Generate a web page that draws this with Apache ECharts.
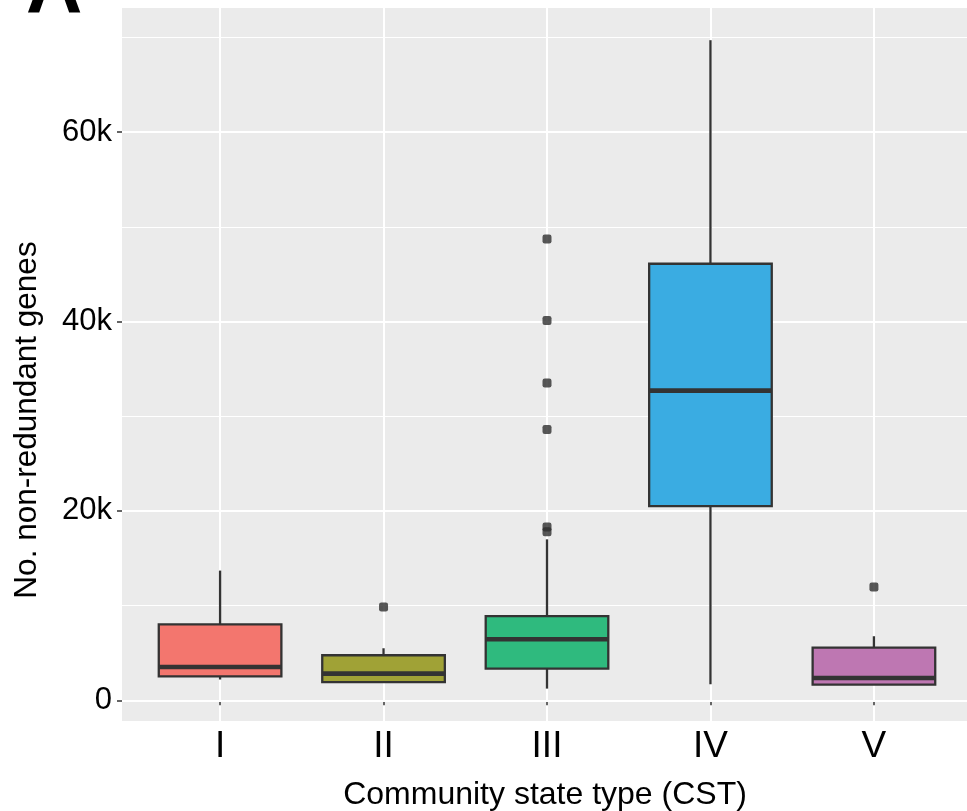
<!DOCTYPE html>
<html>
<head>
<meta charset="utf-8">
<script src="https://cdn.jsdelivr.net/npm/echarts@6/dist/echarts.min.js"></script>
<style>
html,body{margin:0;padding:0;background:#fff;}
#chart{width:967px;height:811px;}
</style>
</head>
<body>
<div id="chart"></div>
<script>
// ---- data ----
var categories = ['I', 'II', 'III', 'IV', 'V'];
var categoryPositions = [1, 2, 3, 4, 5];
var whiskerLow  = [2200, 1900, 1240, 1700, 1660];
var q1Values    = [2540, 1930, 3350, 20500, 1660];
var medianValues= [3520, 2820, 6450, 32700, 2360];
var q3Values    = [8030, 4760, 8900, 46100, 5570];
var whiskerHigh = [13700, 5500, 17000, 69700, 6770];
var outlierCategory = ['II', 'III', 'III', 'III', 'III', 'III', 'III', 'V'];
var outlierValue    = [9850, 48700, 40100, 33500, 28600, 18300, 17800, 11980];
var yTickValues = [0, 20000, 40000, 60000];
var yTickLabels = ['0', '20k', '40k', '60k'];
var yMinorValues = [10000, 30000, 50000, 70000];
var boxColors = ['#F3766E', '#A0A236', '#2FBA7E', '#3AACE2', '#BE77B2'];

// ---- build ----
var boxData = categories.map(function (c, i) {
  return [categoryPositions[i], whiskerLow[i], q1Values[i], medianValues[i], q3Values[i], whiskerHigh[i]];
});
var outlierData = outlierCategory.map(function (c, i) {
  return [categoryPositions[categories.indexOf(c)], outlierValue[i]];
});

var FONT = 'Liberation Sans';
var chart = echarts.init(document.getElementById('chart'), null, {renderer: 'canvas'});

var yAxisCommon = {
  type: 'value',
  min: -2180,
  max: 73100,
  axisLine: {show: false}
};

chart.setOption({
  animation: false,
  backgroundColor: '#FFFFFF',
  grid: {
    left: 122, width: 850, top: 8, height: 713,
    containLabel: false,
    outerBoundsMode: 'none',
    show: true, backgroundColor: '#EBEBEB', borderWidth: 0
  },
  xAxis: {
    type: 'value',
    min: 0.4,
    max: 5.6,
    axisLine: {show: false},
    axisTick: {show: true, length: 5, lineStyle: {color: '#333333', width: 1.5}, customValues: categoryPositions},
    axisLabel: {
      customValues: categoryPositions,
      formatter: function (v) { return categories[Math.round(v) - 1]; },
      color: '#000000', fontFamily: FONT, fontSize: 37, margin: 7
    },
    splitLine: {show: true, lineStyle: {color: '#FFFFFF', width: 2}}
  },
  yAxis: [
    Object.assign({}, yAxisCommon, {
      axisTick: {show: true, length: 5, lineStyle: {color: '#333333', width: 1.5}, customValues: yTickValues},
      axisLabel: {
        customValues: yTickValues,
        formatter: function (v) { return yTickLabels[yTickValues.indexOf(v)]; },
        color: '#000000', fontFamily: FONT, fontSize: 31, margin: 10
      },
      splitLine: {show: true, lineStyle: {color: '#FFFFFF', width: 2}},
      z: 1
    }),
    Object.assign({}, yAxisCommon, {
      position: 'left',
      axisTick: {show: false, customValues: yMinorValues},
      axisLabel: {show: false, customValues: yMinorValues},
      splitLine: {show: true, lineStyle: {color: '#FFFFFF', width: 1.2}},
      z: 0
    })
  ],
  series: [
    {
      type: 'custom',
      xAxisIndex: 0,
      yAxisIndex: 0,
      data: boxData,
      z: 3,
      renderItem: function (params, api) {
        var x = api.value(0);
        var lo = api.coord([x, api.value(1)]);
        var q1 = api.coord([x, api.value(2)]);
        var md = api.coord([x, api.value(3)]);
        var q3 = api.coord([x, api.value(4)]);
        var hi = api.coord([x, api.value(5)]);
        var half = api.size([0.75, 0])[0] / 2;
        var stroke = '#333333';
        return {
          type: 'group',
          children: [
            {type: 'line', shape: {x1: hi[0], y1: hi[1], x2: q3[0], y2: q3[1]}, style: {stroke: stroke, lineWidth: 2.3}},
            {type: 'line', shape: {x1: q1[0], y1: q1[1], x2: lo[0], y2: lo[1]}, style: {stroke: stroke, lineWidth: 2.3}},
            {type: 'rect', shape: {x: q3[0] - half, y: q3[1], width: 2 * half, height: q1[1] - q3[1]},
              style: {fill: boxColors[params.dataIndex], stroke: stroke, lineWidth: 2.3}},
            {type: 'line', shape: {x1: md[0] - half, y1: md[1], x2: md[0] + half, y2: md[1]}, style: {stroke: stroke, lineWidth: 4.6}}
          ]
        };
      }
    },
    {
      type: 'scatter',
      xAxisIndex: 0,
      yAxisIndex: 0,
      data: outlierData,
      symbol: 'roundRect',
      symbolSize: 9,
      itemStyle: {color: '#2E2E2E'},
      z: 4
    }
  ],
  graphic: [
    {
      type: 'text', x: 545, y: 795,
      style: {text: 'Community state type (CST)', font: '32px "' + FONT + '"', fill: '#000000', align: 'center', verticalAlign: 'middle'}
    },
    {
      type: 'text', x: 27, y: 420, rotation: Math.PI / 2,
      style: {text: 'No. non-redundant genes', font: '31.5px "' + FONT + '"', fill: '#000000', align: 'center', verticalAlign: 'middle'}
    },
    {
      type: 'text', x: 26, y: -9,
      style: {text: 'A', font: 'bold 78px "' + FONT + '"', fill: '#000000', align: 'left', verticalAlign: 'middle'}
    }
  ]
});
</script>
</body>
</html>
